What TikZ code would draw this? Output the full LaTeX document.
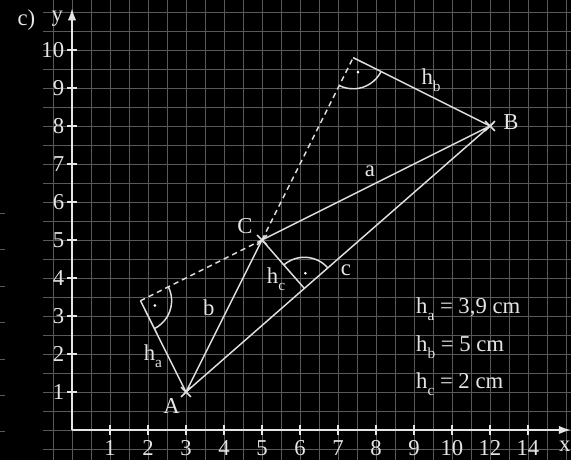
\documentclass[tikz,border=0pt]{standalone}
\usepackage{amsmath,amssymb}
\usepackage{fontspec}
\setmainfont{Liberation Serif}
\usepackage{tikz}
\usetikzlibrary{calc,angles,arrows.meta}
\newcommand{\hsub}[1]{h\raisebox{-5pt}{\fontsize{11.5}{12}\selectfont #1}}
\tikzset{
  gridline/.style={draw=gray!70!black, line width=0.6pt},
  ax/.style={draw=white!90!black, line width=1.3pt},
  tick/.style={draw=white!90!black, line width=0.9pt},
  tri/.style={draw=white!88!black, line width=1.1pt},
  lbl/.style={text=white!90!black, font=\fontsize{17}{20}\selectfont, inner sep=0pt},
}
\begin{document}
\begin{tikzpicture}
\fill[black] (-1.895,-0.789) rectangle (13.132,11.316);
\useasboundingbox (-1.895,-0.789) rectangle (13.132,11.316);
  \foreach \x in {-0.5,0,...,13}
  \draw[gridline] (\x,-0.789) -- (\x,11.316);
  \foreach \y in {-0.5,0,...,11}
  \draw[gridline] (-0.76,\y) -- (13.132,\y);
  \foreach \k in {0,...,6}
  \draw[gridline] (-1.895,-0.05+0.96*\k) -- +(0.14,0);
\coordinate (O) at (0,0);
\coordinate (X) at (13.132,0);
\coordinate (Y) at (0,11.1);
  \draw[ax,-{Latex[length=3.2mm,width=2.2mm]}] (O) -- (X);
  \draw[ax,-{Latex[length=3.2mm,width=2.2mm]}] (O) -- (Y);
  \foreach \x/\t in {1/1,2/2,3/3,4/4,5/5,6/6,7/7,8/8,9/9,10/10,11/12,12/14}{
  \draw[tick] (\x,-0.13) -- (\x,0.13);
  \node[lbl] (xl\x) at (\x,-0.47) {\t};}
  \foreach \y in {1,...,10}{
  \draw[tick] (-0.13,\y) -- (0.13,\y);
  \node[lbl,anchor=east] (yl\y) at (-0.2,\y) {\y};}
\node[lbl] (xname) at (12.97,-0.42) {x};
\node[lbl] (yname) at (-0.39,10.82) {y};
\node[lbl] (part) at (-1.2,10.78) {c)};
\coordinate (A) at (3,1);
\coordinate (B) at (11,8);
\coordinate (C) at (5,5);
\coordinate (Fa) at ($(B)!(A)!(C)$);
\coordinate (Fb) at ($(A)!(B)!(C)$);
\coordinate (Fc) at ($(A)!(C)!(B)$);
  \draw[tri] (A) -- (B) -- (C) -- cycle;
  \draw[tri] (A) -- (Fa);
  \draw[tri] (B) -- (Fb);
  \draw[tri] (C) -- (Fc);
  \draw[tri,dash pattern=on 4pt off 3pt] (C) -- (Fa);
  \draw[tri,dash pattern=on 4pt off 3pt] (C) -- (Fb);
  \pic[tri,angle radius=0.82cm] {angle=A--Fa--C};
  \pic[tri,angle radius=0.82cm] {angle=C--Fb--B};
  \pic[tri,angle radius=0.82cm] {angle=B--Fc--C};
  \fill[white] (Fa) ++(-18.43:0.4) circle (1.1pt);
  \fill[white] (Fb) ++(-71.57:0.4) circle (1.1pt);
  \fill[white] (Fc) ++(86.2:0.4) circle (1.1pt);
  \foreach \p in {A,B,C}
  \draw[tri] (\p) +(-0.13,-0.13) -- +(0.13,0.13) (\p) +(-0.13,0.13) -- +(0.13,-0.13);
\node[lbl] (lA) at (2.62,0.63) {A};
\node[lbl] (lB) at (11.55,8.09) {B};
\node[lbl] (lC) at (4.55,5.36) {C};
\node[lbl] (la) at (7.84,6.82) {a};
\node[lbl] (lb) at (3.6,3.22) {b};
\node[lbl] (lc) at (7.21,4.21) {c};
\node[lbl] (lha) at (2.13,1.94) {\hsub{a}};
\node[lbl] (lhb) at (9.45,9.2) {\hsub{b}};
\node[lbl] (lhc) at (5.37,3.96) {\hsub{c}};
\node[lbl,anchor=west] (va) at (9.05,3.18) {\hsub{a} = 3,9 cm};
\node[lbl,anchor=west] (vb) at (9.05,2.18) {\hsub{b} = 5 cm};
\node[lbl,anchor=west] (vc) at (9.05,1.2) {\hsub{c} = 2 cm};
\end{tikzpicture}
\end{document}
